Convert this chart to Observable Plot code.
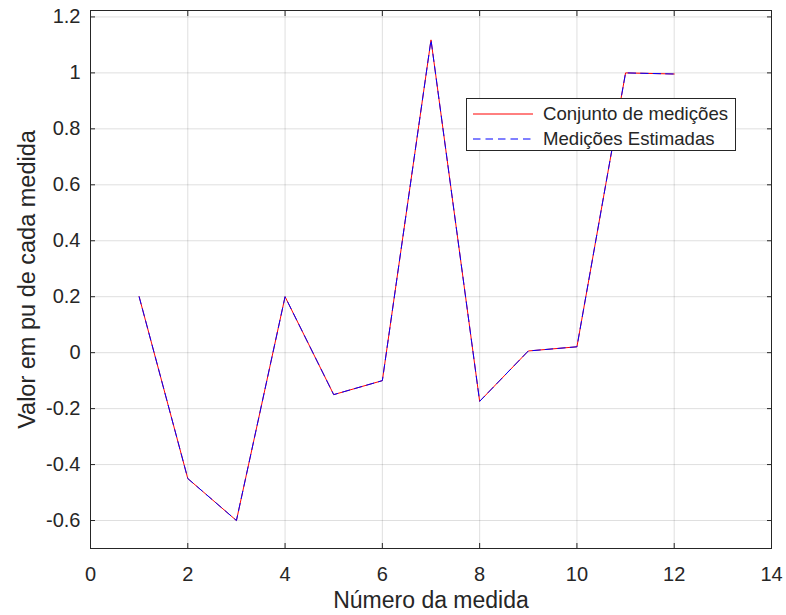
<!DOCTYPE html>
<html>
<head>
<meta charset="utf-8">
<script src="https://cdn.jsdelivr.net/npm/d3@7"></script>
<script src="https://cdn.jsdelivr.net/npm/@observablehq/plot@0.6"></script>
<style>
  html, body { margin: 0; padding: 0; background: #fff; }
  #wrap { position: relative; width: 786px; height: 615px; font-family: "Liberation Sans", Arial, Helvetica, sans-serif; }
  #legend { position: absolute; left: 466px; top: 98px; width: 268px; height: 51px; border: 1px solid #262626; background: #fff; box-sizing: content-box; }
  .row { position: absolute; left: 0; height: 22px; display: flex; align-items: center; font-size: 18.6px; color: #262626; }
  .row svg { margin-left: 6px; margin-right: 10px; }
</style>
</head>
<body>
<div id="wrap"></div>
<script>
const medidas = [1, 2, 3, 4, 5, 6, 7, 8, 9, 10, 11, 12];
const conjunto = [0.2, -0.45, -0.6, 0.2, -0.15, -0.1, 1.118, -0.174, 0.006, 0.021, 1.0, 0.996];
const estimadas = [0.2, -0.45, -0.6, 0.2, -0.15, -0.1, 1.118, -0.174, 0.006, 0.021, 1.0, 0.996];
const xTicks = [0, 2, 4, 6, 8, 10, 12, 14];
const yTicks = [-0.6, -0.4, -0.2, 0, 0.2, 0.4, 0.6, 0.8, 1, 1.2];
const seriesNames = ["Conjunto de medições", "Medições Estimadas"];
const xLabel = "Número da medida";
const yLabel = "Valor em pu de cada medida";

const dataA = medidas.map((x, i) => ({x, y: conjunto[i]}));
const dataB = medidas.map((x, i) => ({x, y: estimadas[i]}));
const axisColor = "#262626";
const dash = "7.5,5";

const chart = Plot.plot({
  width: 786,
  height: 615,
  marginLeft: 90,
  marginRight: 15,
  marginTop: 10,
  marginBottom: 67,
  style: {fontFamily: '"Liberation Sans", Arial, Helvetica, sans-serif', fontSize: "20px", color: axisColor, background: "#fff"},
  x: {domain: [0, 14], ticks: xTicks},
  y: {domain: [-0.7, 1.223], ticks: yTicks},
  marks: [
    Plot.gridX(xTicks, {stroke: axisColor, strokeOpacity: 0.15}),
    Plot.gridY(yTicks, {stroke: axisColor, strokeOpacity: 0.15}),
    Plot.line(dataA, {x: "x", y: "y", stroke: "#ff0000", strokeWidth: 1}),
    Plot.line(dataB, {x: "x", y: "y", stroke: "#0000ff", strokeWidth: 1, strokeDasharray: dash}),
    Plot.axisX(xTicks, {anchor: "bottom", tickSize: -5, tickPadding: 23, stroke: axisColor, fill: axisColor, fontSize: 20, label: null}),
    Plot.axisX(xTicks, {anchor: "top", tickSize: -5, tickFormat: () => "", stroke: axisColor, label: null}),
    Plot.axisY(yTicks, {anchor: "left", tickSize: -5, tickPadding: 15, stroke: axisColor, fill: axisColor, fontSize: 20,
      tickFormat: d => String(Math.round(d * 10) / 10), label: null}),
    Plot.axisY(yTicks, {anchor: "right", tickSize: -5, tickFormat: () => "", stroke: axisColor, label: null}),
    Plot.text([xLabel], {text: d => d, frameAnchor: "bottom", textAnchor: "middle", dy: 59, fontSize: 23, fill: axisColor}),
    Plot.text([yLabel], {text: d => d, frameAnchor: "left", textAnchor: "middle", dx: -63, rotate: -90, fontSize: 23.5, fill: axisColor}),
    Plot.frame({stroke: axisColor})
  ]
});
document.getElementById("wrap").appendChild(chart);

// Legend overlay
const legend = document.createElement("div");
legend.id = "legend";
const styles = [{stroke: "#ff0000", dash: null}, {stroke: "#0000ff", dash: dash}];
seriesNames.forEach((name, i) => {
  const row = document.createElement("div");
  row.className = "row";
  row.style.top = (4 + i * 25) + "px";
  const ns = "http://www.w3.org/2000/svg";
  const sw = document.createElementNS(ns, "svg");
  sw.setAttribute("width", 60); sw.setAttribute("height", 10);
  const ln = document.createElementNS(ns, "line");
  ln.setAttribute("x1", 0); ln.setAttribute("x2", 60); ln.setAttribute("y1", 5); ln.setAttribute("y2", 5);
  ln.setAttribute("stroke", styles[i].stroke); ln.setAttribute("stroke-width", 1);
  if (styles[i].dash) ln.setAttribute("stroke-dasharray", styles[i].dash);
  sw.appendChild(ln);
  row.appendChild(sw);
  const t = document.createElement("span");
  t.textContent = name;
  row.appendChild(t);
  legend.appendChild(row);
});
document.getElementById("wrap").appendChild(legend);
</script>
</body>
</html>
